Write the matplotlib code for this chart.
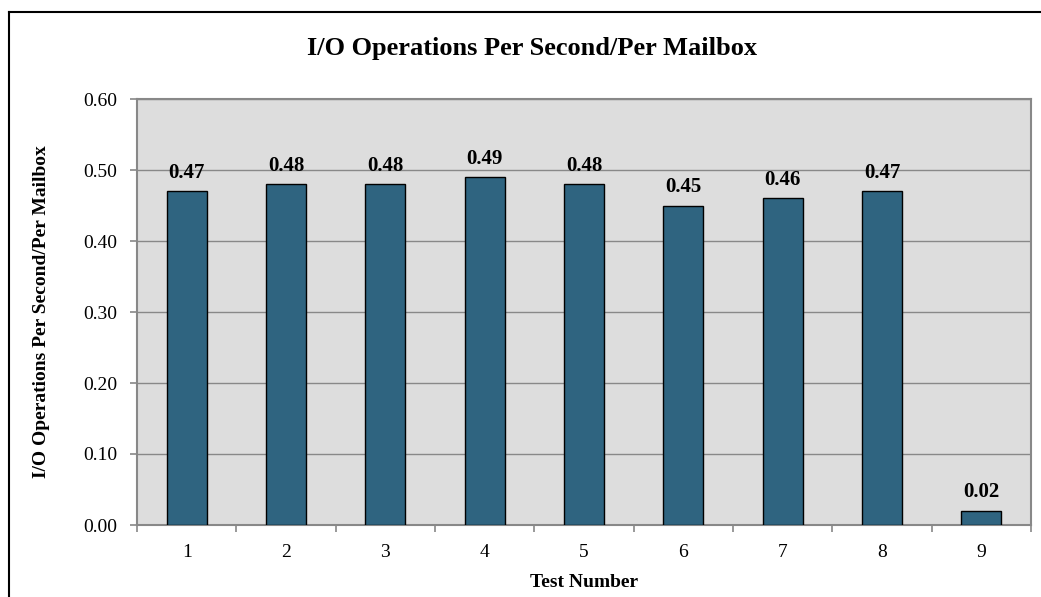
import matplotlib
matplotlib.use("Agg")
import matplotlib.pyplot as plt
from matplotlib.lines import Line2D

categories = ["1", "2", "3", "4", "5", "6", "7", "8", "9"]
values = [0.47, 0.48, 0.48, 0.49, 0.48, 0.45, 0.46, 0.47, 0.02]
yticks = [0.00, 0.10, 0.20, 0.30, 0.40, 0.50, 0.60]

plt.rcParams['font.family'] = ['Liberation Serif', 'DejaVu Serif']

W, H = 1041, 597
fig = plt.figure(figsize=(W / 100, H / 100), dpi=100)
ax = fig.add_axes([137 / W, 1 - 525 / H, (1031 - 137) / W, (525 - 99) / H])

ax.set_facecolor('#DDDDDD')
x = list(range(len(categories)))
ax.bar(x, values, width=0.4, color='#2F6480', edgecolor='black', linewidth=1.0, zorder=3)
for xi, v in zip(x, values):
    ax.text(xi, v + 0.012, f"{v:.2f}", ha='center', va='bottom', fontsize=15,
            fontweight='bold', zorder=4)

ax.set_xlim(-0.5, len(categories) - 0.5)
ax.set_ylim(0, 0.60)
ax.set_yticks(yticks)
ax.set_yticklabels([f"{t:.2f}" for t in yticks], fontsize=14)
ax.set_xticks(x)
ax.set_xticklabels(categories, fontsize=14)
ax.set_xticks([i - 0.5 for i in range(len(categories) + 1)], minor=True)
ax.tick_params(axis='x', which='major', length=0, pad=14)
ax.tick_params(axis='x', which='minor', length=5, color='#888888', width=1.2)
ax.tick_params(axis='y', length=5, color='#888888', width=1.2, pad=9)
ax.yaxis.grid(True, color='#888888', linewidth=1.0, zorder=1)
ax.set_axisbelow(True)
for s in ax.spines.values():
    s.set_color('#888888')
    s.set_linewidth(1.5)

ax.set_xlabel("Test Number", fontsize=14, fontweight='bold', labelpad=9)
ax.set_ylabel("I/O Operations Per Second/Per Mailbox", fontsize=14, fontweight='bold', labelpad=24)

fig.text(532 / W, 1 - 48 / H, "I/O Operations Per Second/Per Mailbox",
         ha='center', va='center', fontsize=19, fontweight='bold')

# outer chart border
fig.add_artist(Line2D([9 / W, 9 / W], [0, 1 - 12 / H], transform=fig.transFigure,
                      color='black', linewidth=1.5))
fig.add_artist(Line2D([9 / W, 1], [1 - 12 / H, 1 - 12 / H], transform=fig.transFigure,
                      color='black', linewidth=1.5))

fig.savefig("out.png", dpi=100)
